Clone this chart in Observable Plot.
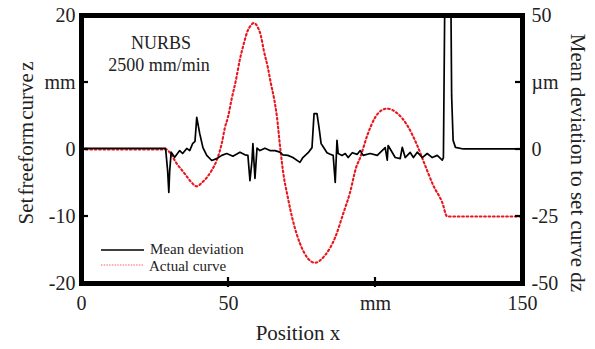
<!DOCTYPE html>
<html><head><meta charset="utf-8">
<script src="https://cdn.jsdelivr.net/npm/d3@7"></script>
<script src="https://cdn.jsdelivr.net/npm/@observablehq/plot@0.6"></script>
<style>
html,body{margin:0;padding:0;background:#fff;}
#chart{position:relative;width:595px;height:349px;overflow:hidden;}
#chart svg text{font-family:"Liberation Serif", "Times New Roman", serif !important;}
</style></head><body><div id="chart"></div>
<script>
// Actual curve (set freeform curve z, mm) vs position x (mm)
const redX = [0,29.0,30.0,32.4,35.1,37.2,39.2,41.3,42.6,44.3,46.0,47.7,48.8,49.8,51.1,52.5,53.8,55.2,56.6,57.6,58.6,60.0,61.0,62.0,63.4,64.4,65.5,66.5,67.5,68.5,70.2,71.9,74.3,77.1,79.4,82.8,86.3,89.0,91.4,93.4,94.8,97.2,99.9,101.9,104.0,107.4,110.8,114.2,116.9,119.7,122.7,124.4,150];
const redY = [0,0,-0.45,-2.1,-3.6,-4.8,-5.5,-4.8,-4.2,-3.1,-1.6,0.9,3.3,4.8,7.6,10.3,13.3,15.8,17.8,18.5,18.9,18.2,17.0,14.8,12.2,9.9,7.6,4.8,0.6,-3.1,-7.2,-10.6,-14.0,-16.3,-16.9,-15.8,-13.1,-9.6,-6.3,-2.7,-1.2,2.1,4.8,5.8,6.1,5.4,3.6,0.6,-2.4,-5.4,-7.9,-10.0,-10.0];

// Mean deviation to set curve dz (µm) vs position x (mm)
const blackX = [0,28.6,29.3,29.7,30.0,30.5,31.7,33.4,34.4,35.8,36.8,37.8,38.6,39.2,40.2,41.3,42.6,44.3,46.0,47.7,49.4,51.5,53.9,55.6,56.6,57.3,58.0,58.3,59.0,59.7,60.7,62.4,64.1,65.8,67.5,68.5,70.2,71.9,74.3,75.3,77.1,78.4,79.1,80.1,80.8,81.5,82.2,83.5,84.6,85.6,86.3,86.9,87.3,88.6,89.7,90.7,92.1,93.8,94.8,95.8,98.2,100.6,103.3,104.0,104.3,105.7,106.7,108.4,109.1,110.1,111.8,112.9,114.2,115.9,117.6,119.3,121.0,122.7,123.1,123.6,124.2,125.4,125.9,126.4,127.2,129.9,150];
const blackUm = [0.4,0.4,-8,-16,-8,-1,-2.9,-0.4,-1.5,0.4,-0.4,2.2,3,12,6,0.7,-2.2,-4.1,-3.4,-2.2,-1.5,-2.5,-1,-2,-2.2,-11.6,-4,2.2,-10.8,0.5,-0.4,0.5,-0.4,-0.4,-1,-2,-2.2,-3,-4.8,-3,-1.2,0.7,13.4,13.4,8.2,2.2,1,-1.2,-1.8,-2.2,-12.3,3.4,-1.5,-2.2,-1.5,-3,-1.2,-1.8,-0.4,-2.2,-1.5,-2.2,0.7,-4,1.5,-1.1,-3,-3.4,0.8,-3,-1.1,-3,-1,-3,-1.5,-3,-2.2,-4,-3,60,90,90,20,3.4,0.8,0.2,0.2];

const xTicks = [0,50,100,150];
const xTickLabels = ["0","50","mm","150"];
const yTicks = [-20,-10,0,10,20];
const yLeftLabels = ["-20","-10","0","mm","20"];
const yRightLabels = ["-50","-25","0","µm","50"];
const umPerMm = 2.5; // right axis (µm) = left axis (mm) × 2.5

const red = redX.map((x,i)=>({x, y: redY[i]}));
const black = blackX.map((x,i)=>({x, um: blackUm[i]}));

const FONT = "'Liberation Serif', 'Times New Roman', serif";
const TXT = "#222";

const plot = Plot.plot({
  width: 595, height: 349,
  marginLeft: 81, marginRight: 73, marginTop: 15, marginBottom: 66,
  style: {fontFamily: FONT, background: "#fff", color: TXT, overflow: "visible"},
  x: {domain: [0,150], axis: null},
  y: {domain: [-20,20], axis: null},
  marks: [
    Plot.line(red, {x: "x", y: "y", stroke: "#e8161e", strokeWidth: 2.1, strokeDasharray: "1.7,2.7", curve: "monotone-x", clip: true}),
    Plot.line(black, {x: "x", y: d => d.um / umPerMm, stroke: "#000", strokeWidth: 1.7, clip: true}),
    Plot.frame({stroke: "#000", strokeWidth: 5}),
    Plot.axisY(yTicks, {anchor: "left", label: null, tickSize: 0, tickPadding: 6, fontSize: 20, fill: TXT,
      tickFormat: d => yLeftLabels[yTicks.indexOf(d)]}),
    Plot.axisY(yTicks, {anchor: "right", label: null, tickSize: 0, tickPadding: 9, fontSize: 20, fill: TXT,
      tickFormat: d => yRightLabels[yTicks.indexOf(d)]}),
    Plot.axisX(xTicks, {anchor: "bottom", label: null, tickSize: 0, tickPadding: 12, fontSize: 20, fill: TXT,
      tickFormat: d => xTickLabels[xTicks.indexOf(d)]})
  ]
});
document.getElementById("chart").appendChild(plot);

const sx = plot.scale("x"), sy = plot.scale("y");
const svg = d3.select(plot);
const g = svg.append("g");
// inward tick marks
[-10,0,10].forEach(v => {
  const y = sy.apply(v);
  g.append("line").attr("x1", sx.apply(0)).attr("x2", sx.apply(0) + 7).attr("y1", y).attr("y2", y).attr("stroke", "#000").attr("stroke-width", 2.2);
  g.append("line").attr("x1", sx.apply(150)).attr("x2", sx.apply(150) - 7).attr("y1", y).attr("y2", y).attr("stroke", "#000").attr("stroke-width", 2.2);
});
[50,100].forEach(v => {
  const x = sx.apply(v);
  g.append("line").attr("x1", x).attr("x2", x).attr("y1", sy.apply(-20) - 6).attr("y2", sy.apply(-20) + 4).attr("stroke", "#000").attr("stroke-width", 2.2);
});

function txt(s, opts) {
  const t = svg.append("text").text(s)
    .attr("font-family", FONT).attr("fill", TXT)
    .attr("text-anchor", opts.anchor || "start")
    .attr("font-size", opts.size);
  if (opts.transform) t.attr("transform", opts.transform);
  else t.attr("x", opts.x).attr("y", opts.y);
  if (opts.ws != null) t.attr("word-spacing", opts.ws);
  return t;
}

// axis titles
txt("Position x", {x: 298, y: 340, anchor: "middle", size: 21});
txt("Set freeform curve z", {transform: "translate(33,143) rotate(-90)", anchor: "middle", size: 21, ws: -3});
txt("Mean deviation to set curve dz", {transform: "translate(571,163) rotate(90)", anchor: "middle", size: 21});

// annotation
txt("NURBS", {x: 161, y: 49, anchor: "middle", size: 18});
txt("2500 mm/min", {x: 159, y: 71, anchor: "middle", size: 18});

// legend
g.append("line").attr("x1", 101).attr("x2", 144).attr("y1", 250).attr("y2", 250).attr("stroke", "#000").attr("stroke-width", 1.3);
txt("Mean deviation", {x: 150, y: 254, size: 15});
g.append("line").attr("x1", 101).attr("x2", 144).attr("y1", 265).attr("y2", 265).attr("stroke", "#f49a9a").attr("stroke-width", 1.3).attr("stroke-dasharray", "1.5,1.2");
txt("Actual curve", {x: 149, y: 271, size: 15});
</script>
</body></html>
